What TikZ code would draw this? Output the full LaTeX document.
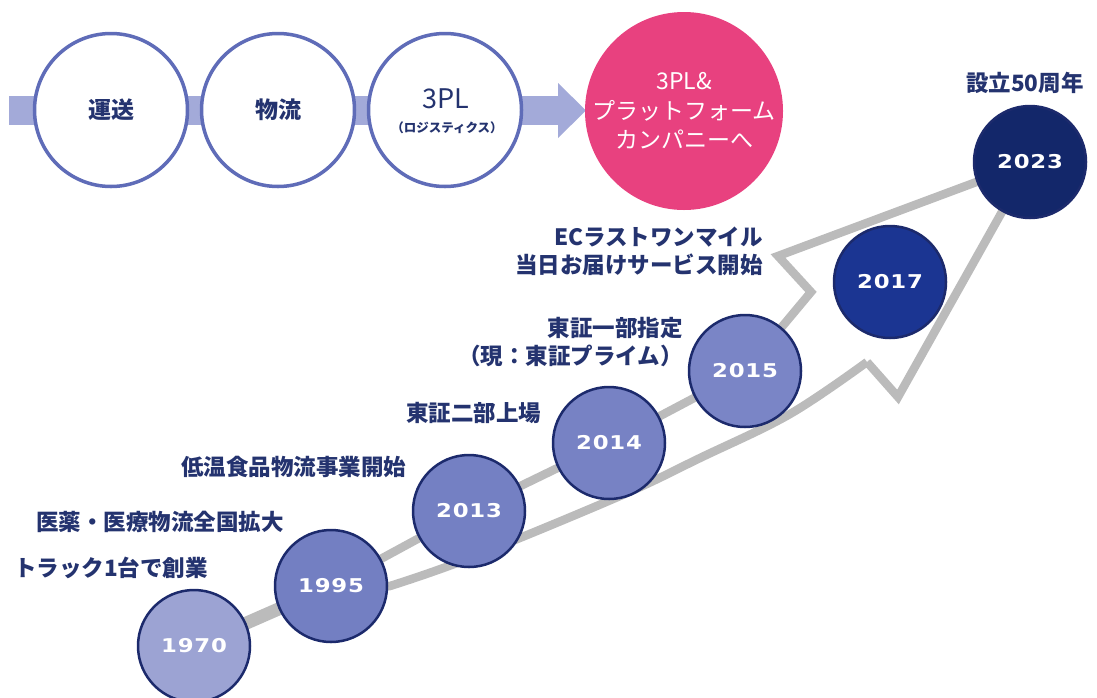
\documentclass[tikz,border=0pt]{standalone}
\usepackage{fontspec}
\usetikzlibrary{backgrounds}
\newfontfamily\jp{Noto Sans CJK JP}
\newfontfamily\yr{DejaVu Sans}[FakeStretch=1.2,LetterSpace=4]
\definecolor{navytxt}{HTML}{24336F}
\definecolor{ringc}{HTML}{5F6CB8}
\definecolor{barc}{HTML}{A3AAD9}
\definecolor{pinkc}{HTML}{E8417F}
\definecolor{grayc}{HTML}{BBBBBB}
\definecolor{edgec}{HTML}{1C2A6C}
\definecolor{cA}{HTML}{9CA3D3}
\definecolor{cB}{HTML}{737FC2}
\definecolor{cC}{HTML}{7480C3}
\definecolor{cD}{HTML}{7782C4}
\definecolor{cE}{HTML}{7A85C6}
\definecolor{cF}{HTML}{1B3592}
\definecolor{cG}{HTML}{13276A}
\tikzset{
  topc/.style={circle, draw=ringc, line width=3.5pt, fill=white, minimum size=153pt, inner sep=0pt, align=center, text=navytxt, font=\jp\bfseries\fontsize{23}{27}\selectfont},
  yearc/.style={circle, draw=edgec, line width=2.5pt, minimum size=112pt, inner sep=0pt, text=white, font=\yr\bfseries\fontsize{19}{21}\selectfont},
  lbl/.style={inner sep=0pt, text=navytxt, font=\jp\bfseries\fontsize{22.5}{28}\selectfont},
  grayline/.style={draw=grayc, line width=8.5pt, line join=miter},
}
\begin{document}
\begin{tikzpicture}[x=1pt,y=-1pt]
\useasboundingbox (0,0) rectangle (1097,697);
% top row
\node[topc] (unso) at (111,110) {運送};
\node[topc] (butsuryu) at (278,110) {物流};
\node[topc] (tpl) at (445,110) {};
\node[inner sep=0pt, text=navytxt, font=\jp\fontsize{27}{29}\selectfont] (tpltxt) at (446,99) {3PL};
\node[inner sep=0pt, text=navytxt, font=\jp\bfseries\fontsize{12.5}{14}\selectfont] (tplsub) at (447,128) {（ロジスティクス）};
\node[circle, fill=pinkc, minimum size=194pt, inner sep=0pt, align=center, text=white, font=\jp\fontsize{23}{29.5}\selectfont] (plat) at (684,111) {3PL\&\\プラットフォーム\\カンパニーへ};
\coordinate (barL) at (9,110.5);
\coordinate (headB) at (558,110.5);
\coordinate (headT) at (558,83);
\coordinate (headD) at (558,138);
\coordinate (tip) at (586,110.5);
\begin{scope}[on background layer]
  \draw[barc, line width=29pt] (barL) -- (headB);
  \fill[barc] (headT) -- (tip) -- (headD) -- cycle;
\end{scope}
% timeline
\node[yearc, fill=cA] (y1970) at (194,646) {1970};
\node[yearc, fill=cB] (y1995) at (331,586) {1995};
\node[yearc, fill=cC] (y2013) at (469,511) {2013};
\node[yearc, fill=cD] (y2014) at (609,443) {2014};
\node[yearc, fill=cE] (y2015) at (745,371) {2015};
\node[yearc, fill=cF] (y2017) at (890,282) {2017};
\node[yearc, fill=cG] (y2023) at (1030,162) {2023};
\coordinate (notchU) at (811,292);
\coordinate (barbU) at (778,256);
\coordinate (barbL) at (898,397);
\coordinate (notchL) at (867,362);
\begin{scope}[on background layer]
  \draw[grayline] (y1970.center) -- (y1995.center) -- (y2013.center) -- (y2014.center) -- (y2015.center) -- (notchU) -- (barbU) -- (y2023.center) -- (barbL) -- (notchL)
    plot[smooth, tension=0.6] coordinates {(notchL) (790,414) (700,458) (620,496) (470,558) (390,586)} -- (y1995.center);
  \draw[grayc, line width=13pt] (y1970.center) -- (y1995.center);
\end{scope}
% labels
\node[lbl, anchor=west] (l2023) at (966,83) {設立50周年};
\node[lbl, anchor=east, align=right] (l2017) at (763,251) {ECラストワンマイル\\当日お届けサービス開始};
\node[lbl, anchor=east, align=right] (l2015) at (683,342) {東証一部指定\\（現：東証プライム）};
\node[lbl, anchor=west] (l2014) at (406,413) {東証二部上場};
\node[lbl, anchor=west] (l2013) at (181,467) {低温食品物流事業開始};
\node[lbl, anchor=west] (l1995) at (36,522) {医薬・医療物流全国拡大};
\node[lbl, anchor=west] (l1970) at (14,568) {トラック1台で創業};
\end{tikzpicture}
\end{document}
